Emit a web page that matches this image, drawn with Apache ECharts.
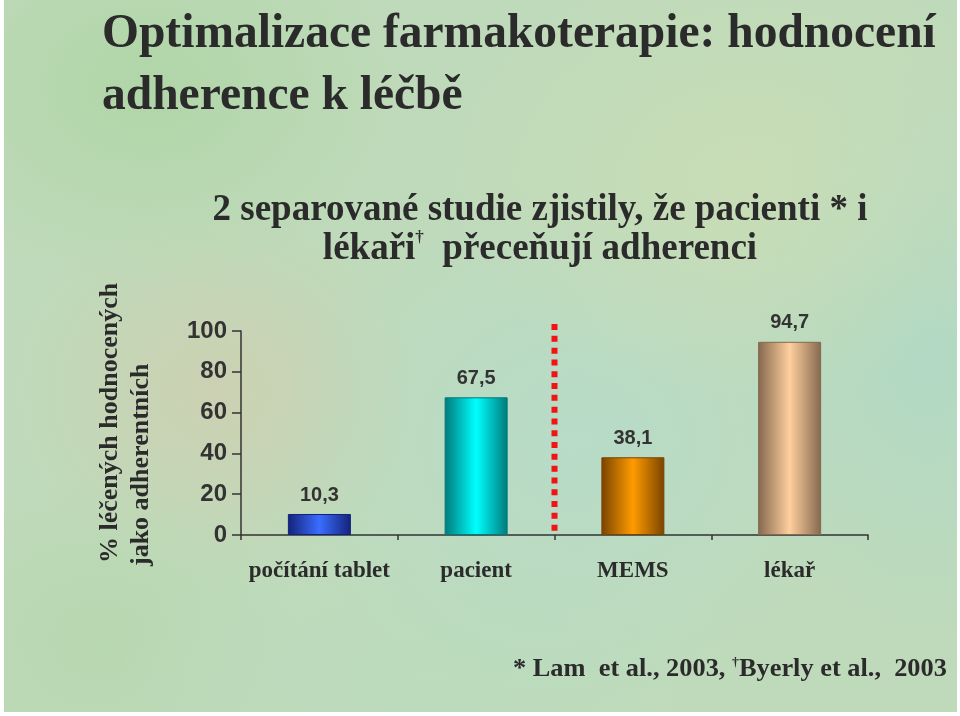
<!DOCTYPE html>
<html><head><meta charset="utf-8">
<script src="https://cdn.jsdelivr.net/npm/echarts@6/dist/echarts.min.js"></script>
<style>
html,body{margin:0;padding:0;background:#ffffff;width:960px;height:716px;overflow:hidden}
#bg{position:absolute;left:4px;top:0;width:953px;height:712px;
background:
 radial-gradient(ellipse 260px 200px at 15% 12%, rgba(170,212,160,0.7), rgba(170,212,160,0) 100%),
 radial-gradient(ellipse 200px 180px at 22% 55%, rgba(212,202,172,0.6), rgba(212,202,172,0) 100%),
 radial-gradient(ellipse 300px 220px at 78% 25%, rgba(204,222,180,0.7), rgba(204,222,180,0) 100%),
 radial-gradient(ellipse 300px 260px at 60% 62%, rgba(180,220,206,0.7), rgba(180,220,206,0) 100%),
 radial-gradient(ellipse 200px 300px at 97% 50%, rgba(172,216,200,0.7), rgba(172,216,200,0) 100%),
 radial-gradient(ellipse 320px 160px at 45% 95%, rgba(186,220,190,0.7), rgba(186,220,190,0) 100%),
 radial-gradient(ellipse 200px 160px at 10% 90%, rgba(180,214,172,0.7), rgba(180,214,172,0) 100%),
 #bfdaba;}
#chart{position:absolute;left:0;top:0;width:960px;height:716px}
</style></head>
<body><div id="bg"></div><div id="chart"></div>
<script>
// ---- data ----
const categories = ['počítání tablet', 'pacient', 'MEMS', 'lékař'];
const values = [10.3, 67.5, 38.1, 94.7];
const yMin = 0, yMax = 100, yStep = 20;
// divider between the two studies: category boundary index, and its vertical extent (in % units)
const dividerPos = 2;
const dividerRange = [103.4, 1.5];
// bar colours: [edge, centre]
const barEdge = ['#14237a', '#007a7a', '#7a4300', '#85684f'];
const barCentre = ['#3a6dff', '#00ffff', '#ff9b00', '#ffcf9e'];

const titleLines = ['Optimalizace farmakoterapie: hodnocení', 'adherence k léčbě'];
const subtitle1 = '2 separované studie zjistily, že pacienti * i';
const subtitle2 = ['lékaři', '†', '  přeceňují adherenci'];
const yNameLines = ['% léčených hodnocených', 'jako adherentních'];
const footer = ['* Lam  et al., 2003, ', '†', 'Byerly et al.,  2003'];

// ---- chart ----
const chart = echarts.init(document.getElementById('chart'), null, {renderer: 'canvas'});
const dark = '#2b2b2b';
const serif = '"Liberation Serif", "Times New Roman", serif';
const sans = '"Liberation Sans", Arial, sans-serif';

function grad(i) {
  return {type: 'linear', x: 0, y: 0, x2: 1, y2: 0, colorStops: [
    {offset: 0, color: barEdge[i]},
    {offset: 0.5, color: barCentre[i]},
    {offset: 1, color: barEdge[i]}
  ]};
}

const option = {
  animation: false,
  backgroundColor: 'transparent',
  grid: {left: 241, right: 92, top: 331, bottom: 181, containLabel: false},
  xAxis: [{
    type: 'category', data: categories, boundaryGap: true,
    axisLine: {lineStyle: {color: '#333', width: 1.5}},
    axisTick: {show: true, length: 5, lineStyle: {color: '#333', width: 1.5}},
    axisLabel: {interval: 0, margin: 25, fontFamily: serif, fontWeight: 'bold', fontSize: 23, color: dark}
  }, {
    type: 'value', min: 0, max: categories.length, show: false
  }],
  yAxis: {
    type: 'value', min: yMin, max: yMax, interval: yStep,
    axisLine: {show: true, lineStyle: {color: '#333', width: 1.5}},
    axisTick: {show: true, length: 9, lineStyle: {color: '#333', width: 1.5}},
    splitLine: {show: false},
    axisLabel: {margin: 14, fontFamily: sans, fontWeight: 'bold', fontSize: 24, color: '#333'}
  },
  series: [{
    type: 'bar', barWidth: 63,
    data: values.map((v, i) => ({value: v, itemStyle: {color: grad(i), borderColor: barEdge[i], borderWidth: 1}})),
    label: {show: true, position: 'top', distance: 9,
      formatter: p => String(p.value).replace('.', ','),
      fontFamily: sans, fontWeight: 'bold', fontSize: 20, color: '#333'}
  }, {
    type: 'line', xAxisIndex: 1, clip: false, silent: true, z: 5,
    symbol: 'none',
    data: dividerRange.map(y => [dividerPos, y]),
    lineStyle: {color: '#f01414', width: 6, type: [6, 5.8], cap: 'butt'}
  }],
  graphic: [
    {type: 'text', x: 102, y: 35, style: {text: titleLines[0], font: 'bold 47.5px ' + serif, fill: dark, textAlign: 'left', textVerticalAlign: 'middle'}},
    {type: 'text', x: 102, y: 97, style: {text: titleLines[1], font: 'bold 47.5px ' + serif, fill: dark, textAlign: 'left', textVerticalAlign: 'middle'}},
    {type: 'text', x: 540, y: 210, style: {text: subtitle1, font: 'bold 37px ' + serif, fill: dark, textAlign: 'center', textVerticalAlign: 'middle'}},
    {type: 'text', x: 540, y: 249, style: {
      text: '{a|' + subtitle2[0] + '}{s|' + subtitle2[1] + '}{a|' + subtitle2[2] + '}',
      textAlign: 'center', textVerticalAlign: 'middle',
      rich: {a: {font: 'bold 37px ' + serif, fill: dark, lineHeight: 40},
             s: {font: 'bold 17px ' + serif, fill: dark, lineHeight: 40, padding: [0, 0, 22, 0]}}}},
    {type: 'text', x: 110, y: 563, rotation: Math.PI / 2, style: {text: yNameLines[0], font: 'bold 26px ' + serif, fill: dark, textAlign: 'left', textVerticalAlign: 'middle'}},
    {type: 'text', x: 141, y: 566, rotation: Math.PI / 2, style: {text: yNameLines[1], font: 'bold 26px ' + serif, fill: dark, textAlign: 'left', textVerticalAlign: 'middle'}},
    {type: 'text', x: 513, y: 670, scaleX: 1.055, style: {
      text: '{a|' + footer[0] + '}{s|' + footer[1] + '}{a|' + footer[2] + '}',
      textAlign: 'left', textVerticalAlign: 'middle',
      rich: {a: {font: 'bold 25px ' + serif, fill: dark, lineHeight: 28},
             s: {font: 'bold 13px ' + serif, fill: dark, lineHeight: 28, padding: [0, 0, 14, 0]}}}}
  ]
};
chart.setOption(option);
</script>
</body></html>
